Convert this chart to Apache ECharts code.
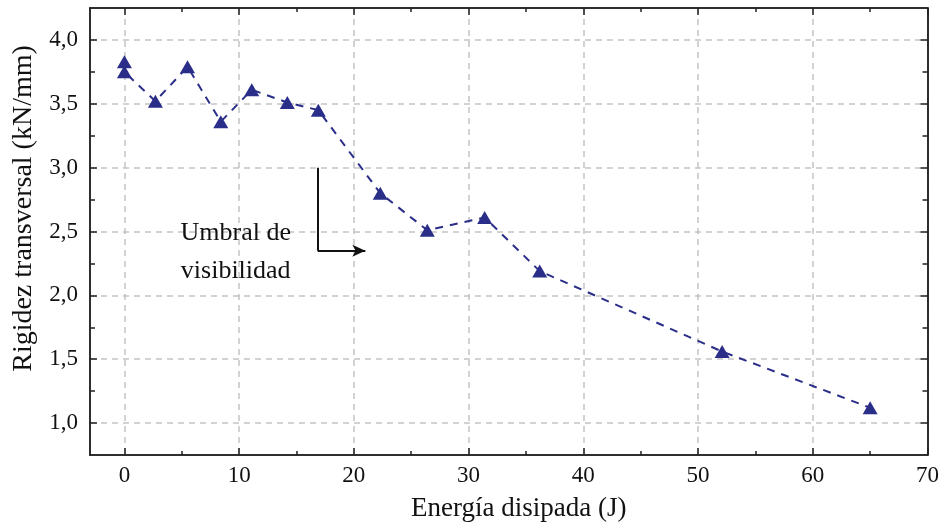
<!DOCTYPE html>
<html>
<head>
<meta charset="utf-8">
<script src="https://cdn.jsdelivr.net/npm/echarts@6/dist/echarts.min.js"></script>
<style>
  html, body { margin: 0; padding: 0; background: #fff; overflow: hidden; }
  #chart { width: 942px; height: 527px; }
</style>
</head>
<body>
<div id="chart"></div>
<script>
// Energía disipada (J) frente a rigidez transversal (kN/mm)
const energia = [0, 0, 2.7, 5.5, 8.4, 11.1, 14.2, 16.9, 22.3, 26.4, 31.4, 36.2, 52.1, 65.0];
const rigidez = [3.83, 3.75, 3.52, 3.79, 3.36, 3.61, 3.51, 3.45, 2.80, 2.51, 2.61, 2.19, 1.56, 1.12];

const xMajor = [0, 10, 20, 30, 40, 50, 60, 70];
const xMinor = [5, 15, 25, 35, 45, 55, 65];
const yMajor = [1.0, 1.5, 2.0, 2.5, 3.0, 3.5, 4.0];
const yMinor = [1.25, 1.75, 2.25, 2.75, 3.25, 3.75];

// Flecha del umbral de visibilidad (coordenadas de datos)
const umbralX = 16.85;
const umbralTop = 3.0;
const umbralBottom = 2.35;
const umbralTip = 21.0;
const umbralTexto = ['Umbral de', 'visibilidad'];
const umbralTextoPos = [9.7, 2.34];

const FONT = 'Liberation Serif';
const TEXT = '#111';
const navy = '#2b2e88';
const frame = '#222';

const chart = echarts.init(document.getElementById('chart'), null, { renderer: 'canvas' });

function tickAxis(pos, values, len, extra) {
  return Object.assign({
    type: 'value',
    position: pos,
    min: -3, max: 70,
    axisLine: { show: true, onZero: false, lineStyle: { color: frame, width: 1.5 } },
    axisTick: { show: true, inside: true, length: len, customValues: values, lineStyle: { color: frame, width: 1.5 } },
    axisLabel: { show: false },
    splitLine: { show: false }
  }, extra || {});
}
function yTickAxis(pos, values, len, extra) {
  return Object.assign({
    type: 'value',
    position: pos,
    min: 0.75, max: 4.25,
    axisLine: { show: true, onZero: false, lineStyle: { color: frame, width: 1.5 } },
    axisTick: { show: true, inside: true, length: len, customValues: values, lineStyle: { color: frame, width: 1.5 } },
    axisLabel: { show: false },
    splitLine: { show: false }
  }, extra || {});
}

const gridLine = { show: true, lineStyle: { color: '#c4c4c4', width: 1.5, type: [6, 5] } };

const option = {
  animation: false,
  backgroundColor: '#fff',
  grid: { left: 90, right: 14, top: 8, bottom: 64, containLabel: false },
  xAxis: [
    tickAxis('bottom', xMajor, 7, {
      name: 'Energía disipada (J)',
      nameLocation: 'middle',
      nameGap: 40,
      nameTextStyle: { fontFamily: FONT, fontSize: 27, color: TEXT, padding: [0, 0, 0, 20] },
      axisLabel: {
        show: true, customValues: xMajor, margin: 9,
        fontFamily: FONT, fontSize: 23, color: TEXT
      },
      splitLine: Object.assign({}, gridLine, { customValues: xMajor })
    }),
    tickAxis('bottom', xMinor, 4),
    tickAxis('top', xMajor, 7),
    tickAxis('top', xMinor, 4)
  ],
  yAxis: [
    yTickAxis('left', yMajor, 7, {
      name: 'Rigidez transversal (kN/mm)',
      nameLocation: 'middle',
      nameGap: 52,
      nameTextStyle: { fontFamily: FONT, fontSize: 28, color: TEXT, padding: [0, 0, 0, 46] },
      axisLabel: {
        show: true, customValues: yMajor, margin: 12,
        fontFamily: FONT, fontSize: 23, color: TEXT,
        formatter: v => v.toFixed(1).replace('.', ',')
      },
      splitLine: Object.assign({}, gridLine, { customValues: yMajor })
    }),
    yTickAxis('left', yMinor, 5),
    yTickAxis('right', yMajor, 7),
    yTickAxis('right', yMinor, 5)
  ],
  series: [
    {
      type: 'line',
      xAxisIndex: 0, yAxisIndex: 0,
      data: energia.map((x, i) => [x, rigidez[i]]),
      symbol: 'triangle',
      symbolSize: [15, 13],
      itemStyle: { color: navy },
      lineStyle: { color: navy, width: 2, type: [8, 7] },
      z: 5
    },
    {
      type: 'scatter',
      xAxisIndex: 0, yAxisIndex: 0,
      data: [umbralTextoPos],
      symbolSize: 0,
      silent: true,
      itemStyle: { opacity: 1 },
      label: {
        show: true, position: 'inside',
        formatter: umbralTexto.join('\n'),
        fontFamily: FONT, fontSize: 26, color: TEXT, lineHeight: 38, align: 'center'
      },
      markLine: {
        silent: true,
        symbol: ['none', 'none'],
        label: { show: false },
        lineStyle: { color: '#111', width: 2, type: 'solid' },
        data: [
          [{ coord: [umbralX, umbralTop] }, { coord: [umbralX, umbralBottom] }],
          [{ coord: [umbralX, umbralBottom], symbol: 'none' },
           { coord: [umbralTip, umbralBottom], symbol: 'arrow', symbolSize: [9, 13] }]
        ]
      }
    }
  ]
};

chart.setOption(option);
</script>
</body>
</html>
